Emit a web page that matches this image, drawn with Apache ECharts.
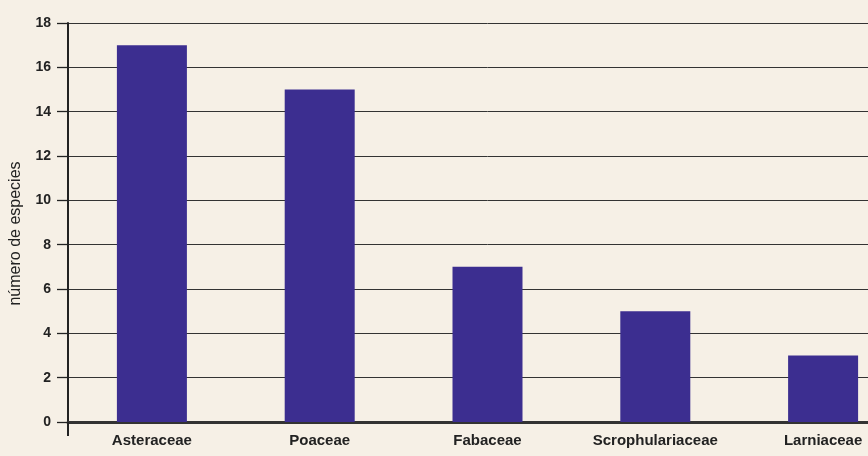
<!DOCTYPE html>
<html><head><meta charset="utf-8">
<script src="https://cdn.jsdelivr.net/npm/echarts@6/dist/echarts.min.js"></script>
<style>html,body{margin:0;padding:0;background:#f6f0e6;overflow:hidden;width:868px;height:456px}#c{width:907px;height:456px}</style>
</head><body><div id="c"></div>
<script>
const categories = ['Asteraceae','Poaceae','Fabaceae','Scrophulariaceae','Larniaceae'];
const especies = [17, 15, 7, 5, 3];
const yAxisName = 'número de especies';

const chart = echarts.init(document.getElementById('c'));
chart.setOption({
  backgroundColor: '#f6f0e6',
  animation: false,
  grid: { left: 63, top: 23, right: 0, bottom: 34 },
  xAxis: {
    type: 'category',
    data: categories,
    boundaryGap: true,
    axisLine: { lineStyle: { color: '#333', width: 3 } },
    axisTick: { show: true, length: 14, interval: function(i){ return i === 0; }, lineStyle: { color: '#222', width: 2 } },
    axisLabel: { interval: 0, color: '#222', fontFamily: 'Liberation Sans', fontWeight: 'bold', fontSize: 15, margin: 11 }
  },
  yAxis: {
    type: 'value',
    min: 0, max: 18, interval: 2,
    name: yAxisName,
    nameLocation: 'middle',
    nameGap: 44,
    nameTextStyle: { color: '#222', fontFamily: 'Liberation Sans', fontSize: 16, padding: [0, 22, 0, 0] },
    axisLine: { show: true, lineStyle: { color: '#222', width: 2 } },
    axisTick: { show: true, inside: false, length: 11, lineStyle: { color: '#222', width: 1.3 } },
    axisLabel: { color: '#222', fontFamily: 'Liberation Sans', fontWeight: 'bold', fontSize: 14, margin: 17 },
    splitLine: { show: true, lineStyle: { color: '#333', width: 1 } }
  },
  series: [{
    type: 'bar',
    data: especies,
    barWidth: 70,
    itemStyle: { color: '#3c2e90' }
  }]
});
</script></body></html>
